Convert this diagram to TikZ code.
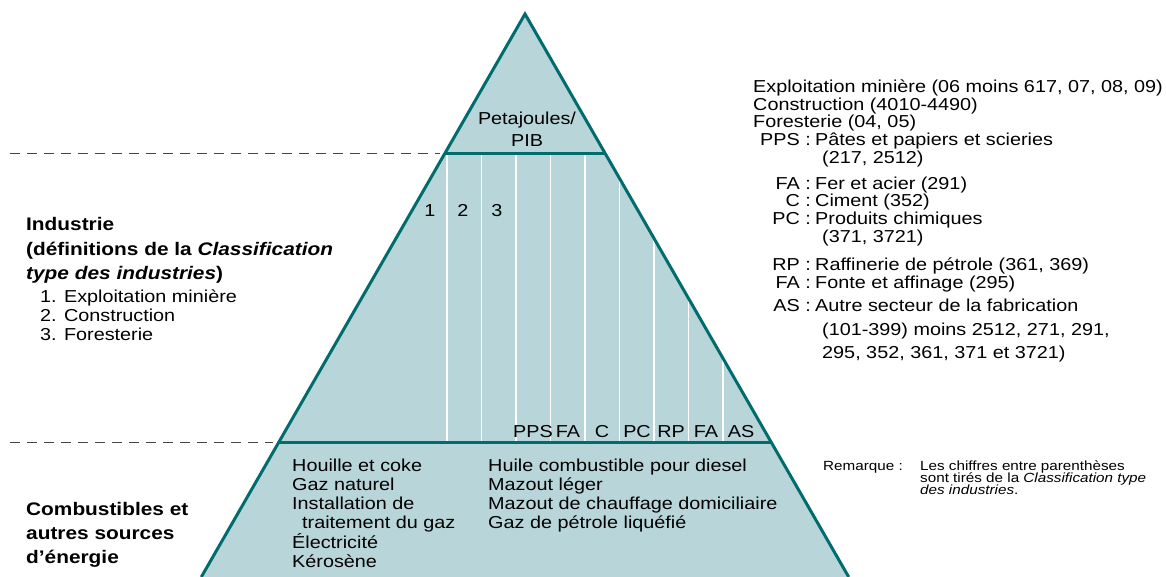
\documentclass[tikz,border=0pt]{standalone}
\usepackage{fontspec}
\setmainfont{Liberation Sans}[FakeStretch=1.145]
\definecolor{pyrfill}{RGB}{184,213,217}
\definecolor{pyredge}{RGB}{0,108,110}
\definecolor{dashgray}{RGB}{70,70,70}
\begin{document}
\begin{tikzpicture}[x=1pt,y=-1pt,
  txt/.style={anchor=base west, inner sep=0pt, font=\fontsize{17.3}{17.5}\selectfont},
  ctxt/.style={anchor=base, inner sep=0pt, font=\fontsize{17.3}{17.5}\selectfont},
  rtxt/.style={anchor=base east, inner sep=0pt, font=\fontsize{17.3}{17.5}\selectfont},
  btxt/.style={anchor=base west, inner sep=0pt, font=\fontsize{18.2}{18}\selectfont\bfseries},
  stxt/.style={anchor=base west, inner sep=0pt, font=\fontsize{13.3}{12}\selectfont},
  edge/.style={draw=pyredge, line width=3pt},
  col/.style={draw=white, line width=1.3pt},
  dashline/.style={draw=dashgray, line width=1pt, dash pattern=on 10pt off 7pt}]
\useasboundingbox (0,0) rectangle (1166,577);
% pyramid
\coordinate (apex) at (525,14);
\coordinate (bl) at (201.3,577);
\coordinate (br) at (848.7,577);
\coordinate (tl) at (444.5,154);
\coordinate (tr) at (605.5,154);
\coordinate (ml) at (278.9,442);
\coordinate (mr) at (771.1,442);
\fill[pyrfill] (apex) -- (br) -- (bl) -- cycle;
% white column lines
\foreach \x/\y in {447/154, 481.5/154, 516/154, 550.5/154, 585/154, 619.5/178, 654/238, 688.5/298, 723/358}
  \draw[col] (\x,\y) -- (\x,442);
\draw[edge] (bl) -- (apex) -- (br);
\draw[edge] (tl) -- (tr);
\draw[edge] (ml) -- (mr);
% dashed lines
\coordinate (d1s) at (10,154);
\coordinate (d1e) at (440,154);
\coordinate (d2s) at (10,442);
\coordinate (d2e) at (273,442);
\draw[dashline] (d1s) -- (d1e);
\draw[dashline] (d2s) -- (d2e);
% top
\node[ctxt] (pj1) at (527,125) {Petajoules/};
\node[ctxt] (pj2) at (527,147) {PIB};
% column labels
\node[ctxt] (c1) at (430,217) {1};
\node[ctxt] (c2) at (463,217) {2};
\node[ctxt] (c3) at (497,217) {3};
\node[ctxt] (l1) at (533,437) {PPS};
\node[ctxt] (l2) at (568,437) {FA};
\node[ctxt] (l3) at (602,437) {C};
\node[ctxt] (l4) at (637,437) {PC};
\node[ctxt] (l5) at (671,437) {RP};
\node[ctxt] (l6) at (706,437) {FA};
\node[ctxt] (l7) at (741,437) {AS};
% bottom fuel list
\node[txt] (f1) at (292,471) {Houille et coke};
\node[txt] (f2) at (292,490) {Gaz naturel};
\node[txt] (f3) at (292,509) {Installation de};
\node[txt] (f4) at (302,528) {traitement du gaz};
\node[txt] (f5) at (292,548) {Électricité};
\node[txt] (f6) at (292,567) {Kérosène};
\node[txt] (g1) at (488,471) {Huile combustible pour diesel};
\node[txt] (g2) at (488,490) {Mazout léger};
\node[txt] (g3) at (488,509) {Mazout de chauffage domiciliaire};
\node[txt] (g4) at (488,528) {Gaz de pétrole liquéfié};
% left labels
\node[btxt] (ind1) at (26,231) {Industrie};
\node[btxt] (ind2) at (26,255) {(définitions de la \itshape Classification};
\node[btxt] (ind3) at (26,279) {{\itshape type des industries})};
\node[txt] (it1) at (40,302) {1. Exploitation minière};
\node[txt] (it2) at (40,321) {2. Construction};
\node[txt] (it3) at (40,340) {3. Foresterie};
\node[btxt] (cb1) at (26,515) {Combustibles et};
\node[btxt] (cb2) at (26,539) {autres sources};
\node[btxt] (cb3) at (26,563) {d’énergie};
% right legend
\node[txt] (r1) at (753,93) {Exploitation minière (06 moins 617, 07, 08, 09)};
\node[txt] (r2) at (753,111) {Construction (4010-4490)};
\node[txt] (r3) at (753,128) {Foresterie (04, 05)};
\node[rtxt] (a1) at (811,146) {PPS :};
\node[txt] (t1) at (815,146) {Pâtes et papiers et scieries};
\node[txt] (t1b) at (822,164) {(217, 2512)};
\node[rtxt] (a2) at (811,190) {FA :};
\node[txt] (t2) at (815,190) {Fer et acier (291)};
\node[rtxt] (a3) at (811,207) {C :};
\node[txt] (t3) at (815,207) {Ciment (352)};
\node[rtxt] (a4) at (811,225) {PC :};
\node[txt] (t4) at (815,225) {Produits chimiques};
\node[txt] (t4b) at (822,243) {(371, 3721)};
\node[rtxt] (a5) at (811,270) {RP :};
\node[txt] (t5) at (815,270) {Raffinerie de pétrole (361, 369)};
\node[rtxt] (a6) at (811,288) {FA :};
\node[txt] (t6) at (815,288) {Fonte et affinage (295)};
\node[rtxt] (a7) at (811,311) {AS :};
\node[txt] (t7) at (815,311) {Autre secteur de la fabrication};
\node[txt] (t7b) at (822,335) {(101-399) moins 2512, 271, 291,};
\node[txt] (t7c) at (822,358) {295, 352, 361, 371 et 3721)};
% note
\node[stxt] (rem) at (823,470) {Remarque :};
\node[stxt] (n1) at (920,470) {Les chiffres entre parenthèses};
\node[stxt] (n2) at (920,482) {sont tirés de la \textit{Classification type}};
\node[stxt] (n3) at (920,494) {\textit{des industries}.};
\end{tikzpicture}
\end{document}
